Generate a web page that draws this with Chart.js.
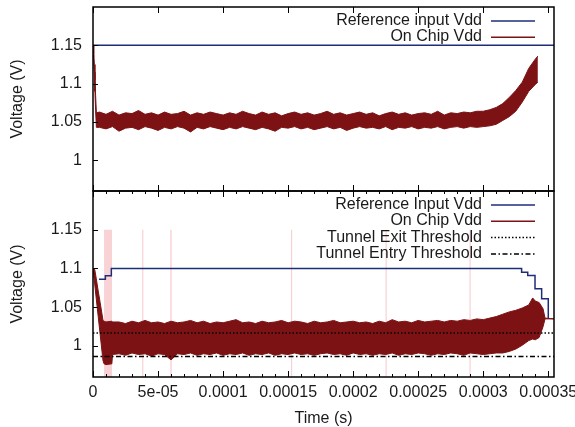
<!DOCTYPE html>
<html><head><meta charset="utf-8">
<script src="https://cdn.jsdelivr.net/npm/chart.js@4.4.1/dist/chart.umd.min.js"></script>
<style>html,body{margin:0;padding:0;background:#fff;}#wrap{width:575px;height:427px;}</style>
</head><body><div id="wrap"><canvas id="c" width="575" height="427"></canvas></div>
<script>
// ---- tick labels ----
const xTickValuesUs = [0, 50, 100, 150, 200, 250, 300, 350];
const xTickLabels = ['0','5e-05','0.0001','0.00015','0.0002','0.00025','0.0003','0.00035'];
const yTickValues = [1, 1.05, 1.1, 1.15];
const yTickLabels = ['1','1.05','1.1','1.15'];

// ---- top panel (time in microseconds) ----
const topRefTimeUs = [0, 354.4];
const topRefVdd = [1.15, 1.15];
const topTimeUs = [0,0.5,1,1.5,2,2.6,5,10,15,20,25,30,35,40,45,50,55,60,65,70,75,80,85,90,95,100,105,110,115,120,125,130,135,140,145,150,155,160,165,170,175,180,185,190,195,200,205,210,215,220,225,230,235,240,245,250,255,260,265,270,275,280,285,290,295,300,305,310,315,320,325,330,335,340,342];
const topChipHigh = [1.15,1.14,1.125,1.105,1.085,1.062,
 1.063,1.060,1.064,1.059,1.062,1.061,1.065,1.060,1.062,1.059,
 1.063,1.060,1.061,1.064,1.059,1.062,1.060,1.063,1.061,1.059,
 1.062,1.060,1.064,1.061,1.059,1.063,1.060,1.062,1.058,1.061,
 1.063,1.060,1.062,1.059,1.061,1.064,1.060,1.062,1.059,1.061,
 1.063,1.060,1.062,1.058,1.061,1.063,1.060,1.062,1.059,1.061,
 1.062,1.060,1.064,1.059,1.062,1.061,1.063,1.062,1.064,
 1.064,1.066,1.069,1.074,1.082,1.091,1.102,1.120,1.132,1.136];
const topChipLow = [1.15,1.135,1.115,1.09,1.065,1.043,
 1.043,1.041,1.044,1.038,1.042,1.043,1.040,1.044,1.042,1.039,
 1.043,1.041,1.044,1.042,1.037,1.043,1.041,1.044,1.042,1.040,
 1.043,1.041,1.044,1.042,1.040,1.043,1.041,1.038,1.043,1.042,
 1.044,1.041,1.043,1.040,1.042,1.044,1.041,1.043,1.039,1.042,
 1.044,1.042,1.043,1.041,1.044,1.040,1.043,1.042,1.044,1.041,
 1.043,1.042,1.044,1.041,1.043,1.044,1.042,1.044,1.043,
 1.044,1.045,1.047,1.052,1.057,1.064,1.076,1.090,1.099,1.102];

// ---- bottom panel ----
const botRefTimeUs = [4.6, 9.5, 14.1, 329.5, 334.2, 339.8, 344.9, 350];
const botRefVdd = [1.086, 1.0905, 1.1, 1.0953, 1.091, 1.074, 1.061, 1.036];
const botTimeUs = [0,1.3,2.5,4,5.5,7.7,8.5,10,14.5,15,20,25,30,35,40,45,50,55,60,65,70,75,80,85,90,95,100,105,110,115,120,125,130,135,140,145,150,155,160,165,170,175,180,185,190,195,200,205,210,215,220,225,230,235,240,245,250,255,260,265,270,275,280,285,290,295,300,305,310,315,320,325,330,335,338,340,343,346,347.5,354.4];
const botChipHigh = [1.1,1.099,1.087,1.071,1.056,1.033,1.032,1.031,1.032,1.031,
 1.031,1.029,1.032,1.030,1.033,1.030,1.031,1.029,1.032,1.030,
 1.031,1.033,1.030,1.032,1.029,1.031,1.030,1.032,1.034,1.030,
 1.031,1.029,1.032,1.030,1.031,1.033,1.030,1.032,1.031,1.029,
 1.032,1.030,1.031,1.033,1.030,1.031,1.032,1.030,1.031,1.029,
 1.032,1.030,1.034,1.031,1.032,1.030,1.033,1.031,1.032,1.033,
 1.031,1.033,1.032,1.034,1.033,1.035,1.034,
 1.036,1.038,1.041,1.044,1.046,1.049,1.053,1.062,1.058,1.056,1.048,1.036,1.035];
const botChipLow = [1.1,1.080,1.061,1.038,1.015,0.981,0.977,0.976,0.977,0.989,
 0.990,0.988,0.991,0.989,0.990,0.987,0.990,0.989,0.982,0.990,
 0.989,0.991,0.988,0.990,0.989,0.991,0.988,0.990,0.989,0.991,
 0.988,0.990,0.989,0.991,0.988,0.990,0.989,0.991,0.989,0.990,
 0.988,0.990,0.991,0.989,0.990,0.988,0.991,0.989,0.990,0.988,
 0.990,0.989,0.991,0.988,0.990,0.989,0.991,0.990,0.988,0.990,
 0.989,0.991,0.990,0.988,0.991,0.990,0.989,
 0.990,0.991,0.991,0.993,0.996,1.001,1.007,1.009,1.008,1.011,1.025,1.035,1.035];
const exitThreshold = 1.0167;
const entryThreshold = 0.9865;
// highlighted intervals (microseconds)
const spanStartUs = [8.5, 37.8, 59.4, 152.2, 224.9, 289.4];
const spanEndUs   = [14.6, 38.5, 60.5, 152.9, 225.6, 290.1];
const spanTopVolt = 1.15;

// ---- styling ----
const US = 1e-6;
const X_MAX = 354.4 * US;
const BLUE = '#1f2d79';
const RED = '#7c1214';
const PINK = '#f8d2d5';
const FONT = '"Liberation Sans", Arial, Helvetica, sans-serif';
Chart.defaults.font.family = FONT;
Chart.defaults.font.size = 16;
Chart.defaults.color = '#1a1a1a';

const pts = (ts, vs) => ts.map((t, i) => ({x: t * US, y: vs[i]}));
const line = (o) => Object.assign({pointRadius: 0, borderWidth: 1.5, tension: 0, fill: false}, o);

const datasets = [
  line({label: 'Reference input Vdd', legendPanel: 'yTop', yAxisID: 'yTop', data: pts(topRefTimeUs, topRefVdd), borderColor: BLUE, order: 5}),
  line({label: 'On Chip Vdd', legendPanel: 'yTop', yAxisID: 'yTop', data: pts(topTimeUs, topChipHigh), borderColor: RED, backgroundColor: RED, fill: '+1', borderWidth: 1, order: 3}),
  line({label: 'On Chip Vdd (low)', yAxisID: 'yTop', data: pts(topTimeUs, topChipLow), borderColor: RED, borderWidth: 1, order: 3}),
  line({label: 'Reference Input Vdd', legendPanel: 'yBot', yAxisID: 'yBot', data: pts(botRefTimeUs, botRefVdd), borderColor: BLUE, stepped: true, order: 5}),
  line({label: 'On Chip Vdd', legendPanel: 'yBot', yAxisID: 'yBot', data: pts(botTimeUs, botChipHigh), borderColor: RED, backgroundColor: RED, fill: '+1', borderWidth: 1, order: 3}),
  line({label: 'On Chip Vdd (low)', yAxisID: 'yBot', data: pts(botTimeUs, botChipLow), borderColor: RED, borderWidth: 1, order: 3}),
  line({label: 'Tunnel Exit Threshold', legendPanel: 'yBot', yAxisID: 'yBot', data: pts([0, 354.4], [exitThreshold, exitThreshold]), borderColor: '#000', borderDash: [1.5, 2], order: 1}),
  line({label: 'Tunnel Entry Threshold', legendPanel: 'yBot', yAxisID: 'yBot', data: pts([0, 354.4], [entryThreshold, entryThreshold]), borderColor: '#000', borderDash: [5, 2.5, 1.5, 2.5], order: 1})
];

const noPad = (s) => { s.paddingTop = 0; s.paddingBottom = 0; s.paddingLeft = 0; s.paddingRight = 0; };

const yAxis = (weight) => ({
  type: 'linear', position: 'left', stack: 'panels', stackWeight: weight,
  min: 0.96, max: 1.2,
  grid: {display: false, drawTicks: false}, border: {display: false},
  afterBuildTicks: (s) => { s.ticks = yTickValues.map(v => ({value: v})); },
  afterFit: (s) => { s.width = 93; noPad(s); },
  ticks: {padding: 11, color: '#1a1a1a', font: {size: 16}, callback: (v) => { const i = yTickValues.indexOf(v); return i >= 0 ? yTickLabels[i] : ''; }},
  title: {display: true, text: 'Voltage (V)', color: '#1a1a1a', font: {size: 16}, padding: {top: 8, bottom: 0}}
});

const framePlugin = {
  id: 'frame',
  beforeDatasetsDraw(chart) {
    const {ctx} = chart; const xs = chart.scales.x, yb = chart.scales.yBot;
    ctx.save(); ctx.fillStyle = PINK;
    const yTop = yb.getPixelForValue(spanTopVolt);
    spanStartUs.forEach((s, i) => {
      let x0 = xs.getPixelForValue(s * US), x1 = xs.getPixelForValue(spanEndUs[i] * US);
      if (x1 - x0 < 1.2) x1 = x0 + 1.2;
      ctx.fillRect(x0, yTop, x1 - x0, yb.bottom - yTop);
    });
    ctx.restore();
  },
  afterDatasetsDraw(chart) {
    const {ctx, chartArea} = chart; const xs = chart.scales.x;
    const L = chartArea.left, R = chartArea.right;
    ctx.save();
    ctx.strokeStyle = '#000'; ctx.lineWidth = 1;
    const tick = (x0, y0, x1, y1) => { ctx.beginPath(); ctx.moveTo(x0, y0); ctx.lineTo(x1, y1); ctx.stroke(); };
    ['yTop', 'yBot'].forEach((id) => {
      const ys = chart.scales[id];
      yTickValues.forEach(v => { const p = Math.round(ys.getPixelForValue(v)) + 0.5; tick(L, p, L + 5, p); });
      for (let us = 0; us <= 354; us += 10) {
        const major = xTickValuesUs.includes(us);
        if (id === 'yTop' && !major) continue;
        const len = major ? 6 : 3;
        const p = Math.round(xs.getPixelForValue(us * US)) + 0.5;
        tick(p, ys.top, p, ys.top + len);
        tick(p, ys.bottom, p, ys.bottom - len);
      }
    });
    ctx.lineWidth = 1.5;
    ['yTop', 'yBot'].forEach((id) => {
      const ys = chart.scales[id];
      ctx.strokeRect(L, ys.top, R - L, ys.bottom - ys.top);
    });
    ctx.font = '16px ' + FONT; ctx.textAlign = 'right'; ctx.textBaseline = 'middle'; ctx.fillStyle = '#1a1a1a';
    ['yTop', 'yBot'].forEach((id) => {
      const ys = chart.scales[id];
      let y = ys.top + 13.5;
      chart.data.datasets.forEach(ds => {
        if (ds.legendPanel !== id) return;
        ctx.fillText(ds.label, R - 72, y);
        ctx.save(); ctx.strokeStyle = ds.borderColor; ctx.lineWidth = 1.5; ctx.setLineDash(ds.borderDash || []);
        ctx.beginPath(); ctx.moveTo(R - 63, y + 0.5); ctx.lineTo(R - 19, y + 0.5); ctx.stroke(); ctx.restore();
        y += 16.3;
      });
    });
    ctx.restore();
  }
};

new Chart(document.getElementById('c'), {
  type: 'line',
  data: {datasets},
  options: {
    responsive: false, animation: false, devicePixelRatio: 1,
    layout: {padding: {top: 7, right: 21, left: 0, bottom: 0}},
    plugins: {legend: {display: false}, tooltip: {enabled: false}},
    events: [],
    scales: {
      x: {
        type: 'linear', min: 0, max: X_MAX,
        grid: {display: false, drawTicks: false}, border: {display: false},
        afterBuildTicks: (s) => { s.ticks = xTickValuesUs.map(v => ({value: v * US})); },
        afterFit: (s) => { s.height = 50; noPad(s); },
        ticks: {padding: 6, maxRotation: 0, autoSkip: false, color: '#1a1a1a', font: {size: 16}, callback: (v, i) => xTickLabels[i]},
        title: {display: true, text: 'Time (s)', color: '#1a1a1a', font: {size: 16}, padding: {top: 0, bottom: -1}}
      },
      yBot: yAxis(186),
      yTop: yAxis(184)
    }
  },
  plugins: [framePlugin]
});
</script>
</body></html>
